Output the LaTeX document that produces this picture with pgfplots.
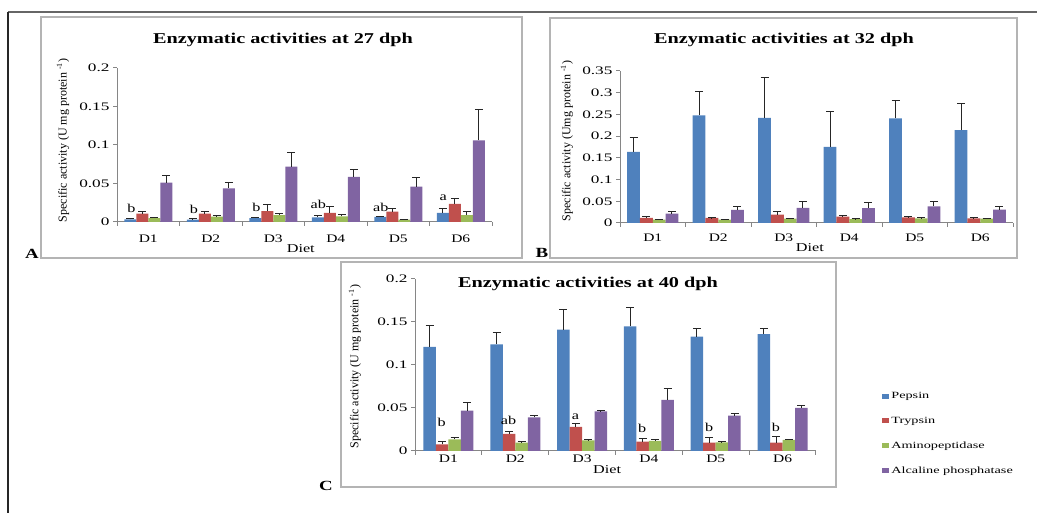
\documentclass[border=0pt]{standalone}
\usepackage{fontspec}
\setmainfont[FakeStretch=1.35]{Liberation Serif}
\newfontfamily\ylabfont{Liberation Serif}
\newfontfamily\tickfont[FakeStretch=1.5]{Liberation Serif}
\newfontfamily\legfont[FakeStretch=1.5]{Liberation Serif}
\usepackage{pgfplots}
\usepackage{pgfplotstable}
\pgfplotsset{compat=1.18}
\definecolor{cBlue}{HTML}{4F81BD}
\definecolor{cRed}{HTML}{C0504D}
\definecolor{cGreen}{HTML}{9BBB59}
\definecolor{cPurple}{HTML}{8064A2}
\definecolor{axgray}{HTML}{868686}
\definecolor{framegray}{HTML}{B4B4B4}
\definecolor{errcol}{HTML}{262626}

% x pep pepe try trye ami amie alp alpe
\pgfplotstableread{
x pep pepe try trye ami amie alp alpe
0 0.0033 0.0017 0.011 0.003 0.005 0.0012 0.051 0.010
1 0.0030 0.0010 0.011 0.002 0.007 0.0010 0.0435 0.0078
2 0.0050 0.0010 0.014 0.009 0.009 0.0015 0.072 0.018
3 0.0060 0.0030 0.012 0.0075 0.0073 0.0025 0.0585 0.0095
4 0.0065 0.0010 0.0134 0.0036 0.003 0.0005 0.046 0.012
5 0.0120 0.0055 0.0236 0.0064 0.009 0.004 0.106 0.040
}\dataA
\pgfplotstableread{
x pep pepe try trye ami amie alp alpe
0 0.164 0.032 0.012 0.002 0.0076 0.001 0.0214 0.005
1 0.248 0.054 0.0115 0.001 0.0076 0.001 0.030 0.008
2 0.242 0.092 0.019 0.007 0.010 0.001 0.035 0.015
3 0.175 0.081 0.0145 0.0035 0.009 0.001 0.034 0.013
4 0.241 0.040 0.013 0.001 0.0107 0.001 0.038 0.012
5 0.214 0.060 0.0107 0.001 0.010 0.001 0.0306 0.0064
}\dataB
\pgfplotstableread{
x pep pepe try trye ami amie alp alpe
0 0.121 0.025 0.0078 0.0032 0.0136 0.0024 0.047 0.0097
1 0.124 0.014 0.0198 0.0027 0.0097 0.001 0.0392 0.0024
2 0.141 0.023 0.028 0.004 0.0124 0.0006 0.0462 0.0008
3 0.145 0.022 0.011 0.0034 0.0117 0.0013 0.0594 0.0136
4 0.133 0.009 0.0097 0.0063 0.010 0.001 0.041 0.003
5 0.136 0.006 0.0097 0.007 0.013 0.0005 0.050 0.003
}\dataC

\pgfplotsset{
  enz/.style={
    scale only axis,
    anchor=south west,
    ybar=0pt,
    xmin=-0.5, xmax=5.5, ymin=0,
    clip=false,
    axis x line*=bottom, axis y line*=left,
    axis line style={-, draw=axgray, line width=1pt},
    tick align=outside,
    xtick={0,...,5}, xticklabels={D1,D2,D3,D4,D5,D6},
    major x tick style={draw=none},
    minor xtick={-0.5,0.5,...,5.5},
    minor x tick style={draw=axgray, line width=1pt},
    minor tick length=4pt,
    major tick length=4pt,
    y tick style={draw=axgray, line width=1pt},
    scaled y ticks=false,
    yticklabel style={/pgf/number format/fixed, /pgf/number format/precision=2,
      /pgf/number format/assume math mode=true, font=\tickfont\fontsize{11.5}{12}\selectfont},
    xticklabel style={font=\fontsize{11.5}{12}\selectfont},
    every axis y label/.style={rotate=90, anchor=center, font=\ylabfont\fontsize{12}{13}\selectfont},
    every axis x label/.style={anchor=center, font=\fontsize{12}{13}\selectfont},
    every axis plot/.append style={draw=none},
    every axis plot post/.append style={legend image code/.code={\fill[##1] (0pt,-2.5pt) rectangle (7pt,2.5pt);}},
    error bars/y dir=plus,
    error bars/y explicit,
    error bars/error bar style={draw=errcol, line width=1pt},
    error bars/error mark options={rotate=90, mark size=4pt, draw=errcol, line width=1pt},
  }
}

\begin{document}
\begin{tikzpicture}[x=1pt,y=1pt]
\path[use as bounding box] (0,0) rectangle (1037,513);
\coordinate (pA) at (117,291);
\coordinate (pB) at (620,290);
\coordinate (pC) at (415,62);
\draw[color=black!60, line width=1.2pt] (8,501) -- (1037,501);
\draw[color=black!85, line width=2pt] (8,501) -- (8,0);
\draw[framegray, line width=1.3pt] (41,255) rectangle (522,496);
\draw[framegray, line width=1.3pt] (550,255) rectangle (1017,495);
\draw[framegray, line width=1.3pt] (341,26) rectangle (836,251);

\node[font=\bfseries\fontsize{15}{18}\selectfont] at (283,473) {Enzymatic activities at 27 dph};
\node[font=\bfseries\fontsize{15}{18}\selectfont] at (784,473) {Enzymatic activities at 32 dph};
\node[font=\bfseries\fontsize{15}{18}\selectfont] at (588,229) {Enzymatic activities at 40 dph};
\node[font=\bfseries\fontsize{14}{16}\selectfont] at (32,259) {A};
\node[font=\bfseries\fontsize{14}{16}\selectfont] at (542,260) {B};
\node[font=\bfseries\fontsize{14}{16}\selectfont] at (326,27) {C};

% ---------- A ----------
\begin{axis}[enz, at={(pA)}, width=375pt, height=154pt,
  ymax=0.2, ytick={0,0.05,0.1,0.15,0.2}, bar width=12pt,
  xticklabel style={yshift=-5pt},
  ylabel={Specific activity (U mg protein \textsuperscript{-1})},
  ylabel style={at={(axis description cs:-0.144,0.53)}},
  xlabel={Diet}, xlabel style={at={(axis description cs:0.49,-0.175)}}]
\addplot[fill=cBlue] table[x=x,y=pep,y error=pepe]{\dataA};
\addplot[fill=cRed] table[x=x,y=try,y error=trye]{\dataA};
\addplot[fill=cGreen] table[x=x,y=ami,y error=amie]{\dataA};
\addplot[fill=cPurple] table[x=x,y=alp,y error=alpe]{\dataA};
\begin{scope}[font=\fontsize{12}{13}\selectfont]
\node at (axis cs:-0.27,0.0175) {b};
\node at (axis cs:0.73,0.017) {b};
\node at (axis cs:1.73,0.019) {b};
\node at (axis cs:2.72,0.023) {ab};
\node at (axis cs:3.72,0.019) {ab};
\node at (axis cs:4.72,0.032) {a};
\end{scope}
\end{axis}

% ---------- B ----------
\begin{axis}[enz, at={(pB)}, width=393pt, height=152pt,
  ymax=0.35, ytick={0,0.05,0.1,0.15,0.2,0.25,0.3,0.35}, bar width=12.8pt,
  xticklabel style={yshift=-3pt},
  ylabel={Specific activity (Umg protein \textsuperscript{-1})},
  ylabel style={at={(axis description cs:-0.135,0.54)}},
  xlabel={Diet}, xlabel style={at={(axis description cs:0.483,-0.164)}}]
\addplot[fill=cBlue] table[x=x,y=pep,y error=pepe]{\dataB};
\addplot[fill=cRed] table[x=x,y=try,y error=trye]{\dataB};
\addplot[fill=cGreen] table[x=x,y=ami,y error=amie]{\dataB};
\addplot[fill=cPurple] table[x=x,y=alp,y error=alpe]{\dataB};
\end{axis}

% ---------- C ----------
\begin{axis}[enz, at={(pC)}, width=401pt, height=172pt,
  ymax=0.2, ytick={0,0.05,0.1,0.15,0.2}, bar width=12.5pt,
  xticklabel style={yshift=4pt},
  ylabel={Specific activity (U mg protein \textsuperscript{-1})},
  ylabel style={at={(axis description cs:-0.15,0.49)}},
  xlabel={Diet}, xlabel style={at={(axis description cs:0.479,-0.11)}},
  legend style={at={(1.165,0.355)}, anchor=north west, draw=none, fill=none,
    inner sep=0pt, row sep=13pt, font=\legfont\fontsize{9.5}{10}\selectfont},
  legend cell align=left]
\addplot[fill=cBlue] table[x=x,y=pep,y error=pepe]{\dataC};
\addlegendentry{Pepsin}
\addplot[fill=cRed] table[x=x,y=try,y error=trye]{\dataC};
\addlegendentry{Trypsin}
\addplot[fill=cGreen] table[x=x,y=ami,y error=amie]{\dataC};
\addlegendentry{Aminopeptidase}
\addplot[fill=cPurple] table[x=x,y=alp,y error=alpe]{\dataC};
\addlegendentry{Alcaline phosphatase}
\begin{scope}[font=\fontsize{12}{13}\selectfont]
\node at (axis cs:-0.1,0.033) {b};
\node at (axis cs:0.9,0.036) {ab};
\node at (axis cs:1.9,0.040) {a};
\node at (axis cs:2.9,0.026) {b};
\node at (axis cs:3.9,0.028) {b};
\node at (axis cs:4.9,0.027) {b};
\end{scope}
\end{axis}
\end{tikzpicture}
\end{document}
